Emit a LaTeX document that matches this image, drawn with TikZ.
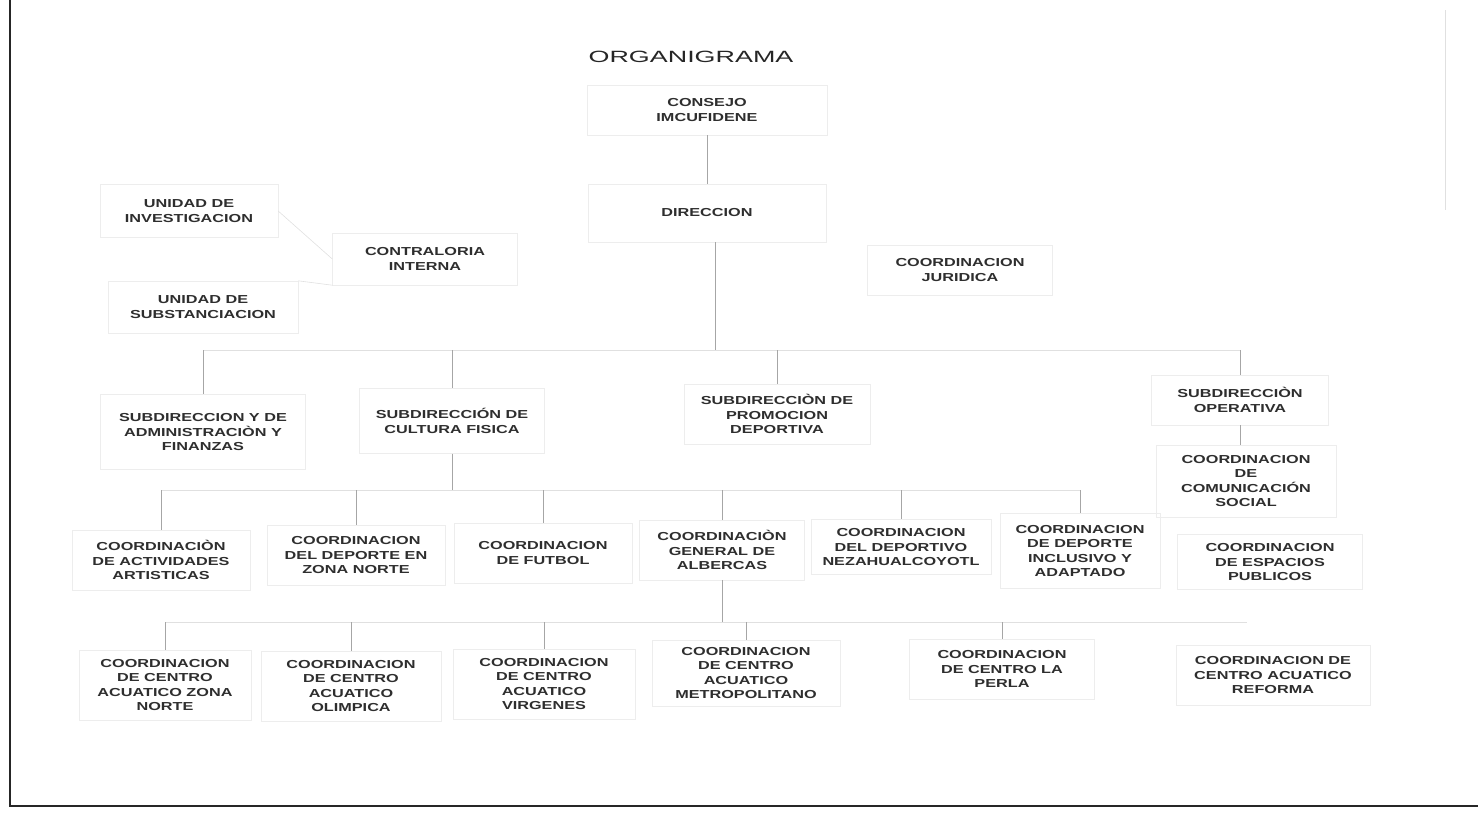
\documentclass[tikz,border=0pt]{standalone}
\usepackage{fontspec}
\setmainfont{Liberation Sans}[FakeStretch=1.4]
\newfontfamily\titlefont{Liberation Sans}[FakeStretch=1.65]
\usetikzlibrary{positioning}

\begin{document}
\begin{tikzpicture}[
x=1pt, y=-1pt,
unit/.style={
	draw=black!7, text=black!82, align=center,
	font=\bfseries\fontsize{11.6}{14.6}\selectfont,
	minimum width=178pt, minimum height=55pt, inner sep=2pt
},
link/.style={draw=black!35, line width=0.6pt},
faint/.style={draw=black!12, line width=0.6pt}
]
\useasboundingbox (0,0) rectangle (1478,817);
% page frame
\draw[line width=2pt, black!85] (10,0) -- (10,806) -- (1478,806);
\draw[faint] (1445,10) -- (1445,210);

\node[font=\titlefont\fontsize{16.3}{20}\selectfont, text=black!85] (titulo) at (691,57) {ORGANIGRAMA};
\node[unit, minimum width=240pt, minimum height=50pt] (consejo) at (707,110) {CONSEJO\\IMCUFIDENE};
\node[unit, minimum width=238pt, minimum height=58pt] (direccion) at (707,213) {DIRECCION};
\node[unit, minimum height=53pt] (investigacion) at (189,211) {UNIDAD DE\\INVESTIGACION};
\node[unit, minimum width=185pt, minimum height=52pt] (contraloria) at (425,259) {CONTRALORIA\\INTERNA};
\node[unit, minimum width=190pt, minimum height=52pt] (substanciacion) at (203,307) {UNIDAD DE\\SUBSTANCIACION};
\node[unit, minimum width=185pt, minimum height=50pt] (juridica) at (960,270) {COORDINACION\\JURIDICA};

% subdirecciones
\node[unit, minimum width=205pt, minimum height=75pt] (admin) at (203,432) {SUBDIRECCION Y DE\\ADMINISTRACIÒN Y\\FINANZAS};
\node[unit, minimum width=185pt, minimum height=65pt] (cultura) at (452,421) {SUBDIRECCIÓN DE\\CULTURA FISICA};
\node[unit, minimum width=186pt, minimum height=60pt] (promocion) at (777,414) {SUBDIRECCIÒN DE\\PROMOCION\\DEPORTIVA};
\node[unit, minimum width=177pt, minimum height=50pt] (operativa) at (1240,400) {SUBDIRECCIÒN\\OPERATIVA};
\node[unit, minimum width=180pt, minimum height=72pt] (comunicacion) at (1246,481) {COORDINACION\\DE\\COMUNICACIÓN\\SOCIAL};

% coordinaciones
\node[unit, minimum height=60pt] (artisticas) at (161,560) {COORDINACIÒN\\DE ACTIVIDADES\\ARTISTICAS};
\node[unit, minimum height=60pt] (zonanorte) at (356,555) {COORDINACION\\DEL DEPORTE EN\\ZONA NORTE};
\node[unit, minimum height=60pt] (futbol) at (543,553) {COORDINACION\\DE FUTBOL};
\node[unit, minimum width=165pt, minimum height=60pt] (albercas) at (722,550) {COORDINACIÒN\\GENERAL DE\\ALBERCAS};
\node[unit, minimum width=180pt] (neza) at (901,547) {COORDINACION\\DEL DEPORTIVO\\NEZAHUALCOYOTL};
\node[unit, minimum width=160pt, minimum height=75pt] (inclusivo) at (1080,551) {COORDINACION\\DE DEPORTE\\INCLUSIVO Y\\ADAPTADO};
\node[unit, minimum width=185pt] (espacios) at (1270,562) {COORDINACION\\DE ESPACIOS\\PUBLICOS};

% centros acuaticos
\node[unit, minimum width=172pt, minimum height=70pt] (acuzona) at (165,685) {COORDINACION\\DE CENTRO\\ACUATICO ZONA\\NORTE};
\node[unit, minimum width=180pt, minimum height=70pt] (olimpica) at (351,686) {COORDINACION\\DE CENTRO\\ACUATICO\\OLIMPICA};
\node[unit, minimum width=182pt, minimum height=70pt] (virgenes) at (544,684) {COORDINACION\\DE CENTRO\\ACUATICO\\VIRGENES};
\node[unit, minimum width=188pt, minimum height=66pt] (metro) at (746,673) {COORDINACION\\DE CENTRO\\ACUATICO\\METROPOLITANO};
\node[unit, minimum width=185pt, minimum height=60pt] (perla) at (1002,669) {COORDINACION\\DE CENTRO LA\\PERLA};
\node[unit, minimum width=194pt, minimum height=60pt] (reforma) at (1273,675) {COORDINACION DE\\CENTRO ACUATICO\\REFORMA};

\coordinate (hub) at (715,350);
\coordinate (bus3) at (452,490);
\coordinate (bus4) at (722,622);
\coordinate (bus4end) at (1247,622);

\draw[link] (consejo) -- (direccion);
\draw[faint] (investigacion.east) -- (contraloria.west);
\draw[faint] (substanciacion.north east) -- (contraloria.south west);
\draw[link] (hub |- direccion.south) -- (hub);
\draw[faint] (admin.north |- hub) -- (operativa.north |- hub);
\foreach \n in {admin,cultura,promocion,operativa}
	\draw[link] (\n.north |- hub) -- (\n.north);
\draw[link] (operativa.south) -- (operativa.south |- comunicacion.north);

\draw[link] (cultura) -- (bus3);
\draw[faint] (artisticas.north |- bus3) -- (inclusivo.north |- bus3);
\foreach \n in {artisticas,zonanorte,futbol,albercas,neza,inclusivo}
	\draw[link] (\n.north |- bus3) -- (\n.north);

\draw[link] (albercas) -- (bus4);
\draw[faint] (acuzona.north |- bus4) -- (bus4end);
\foreach \n in {acuzona,olimpica,virgenes,metro,perla}
	\draw[link] (\n.north |- bus4) -- (\n.north);
\end{tikzpicture}
\end{document}
